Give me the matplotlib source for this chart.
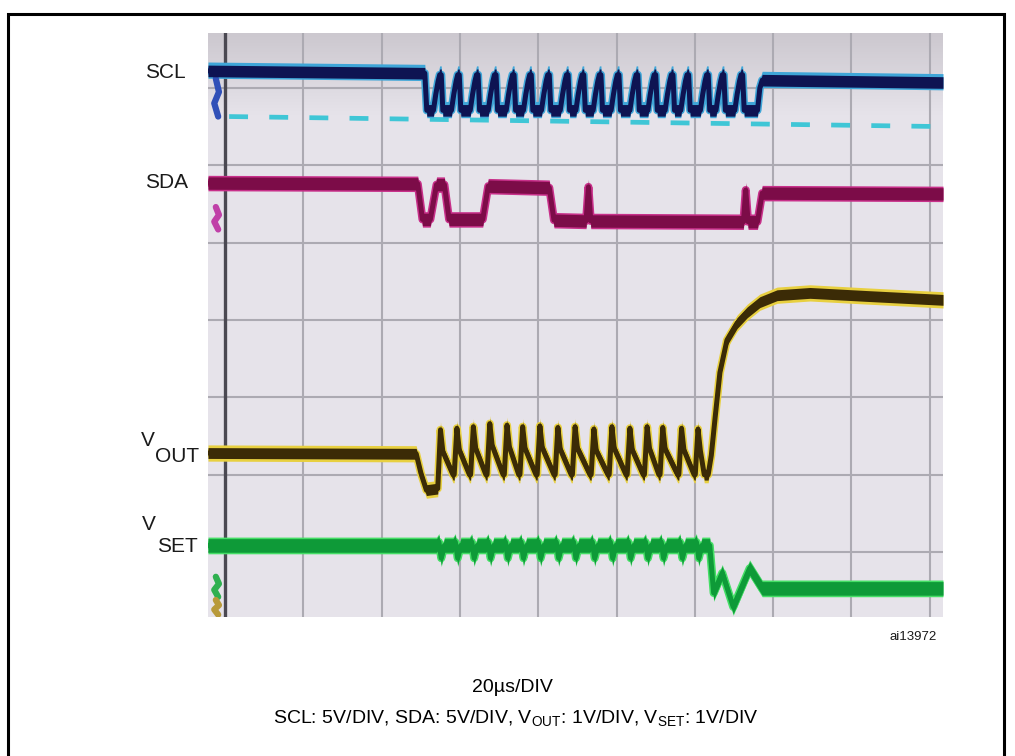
import numpy as np
import matplotlib
matplotlib.use('Agg')
import matplotlib.pyplot as plt
from matplotlib.patches import Rectangle
from matplotlib.colors import LinearSegmentedColormap

plt.rcParams['font.family'] = ['Liberation Sans', 'DejaVu Sans']
plt.rcParams['mathtext.fontset'] = 'custom'
plt.rcParams['mathtext.rm'] = 'Liberation Sans'
plt.rcParams['mathtext.it'] = 'Liberation Sans:italic'
plt.rcParams['mathtext.bf'] = 'Liberation Sans:bold'

# ---------------- data (screen divisions: x = 20us/div, y = div above lowest graticule line)
time_span = [-0.22, 9.17]
level_span = [-0.84, 6.71]
grid_x = [1, 2, 3, 4, 5, 6, 7, 8, 9]
grid_y = [0, 1, 2, 3, 4, 5, 6]

# SCL
scl_high_left = 6.22
scl_high_right = 6.07
scl_pulse_high = 6.17
scl_low = 5.71
scl_start = 2.55
scl_end = 6.83
scl_peaks = [2.75, 2.98, 3.22, 3.45, 3.68, 3.90, 4.13, 4.37, 4.57, 4.79,
             5.02, 5.26, 5.49, 5.71, 5.91, 6.16, 6.36, 6.60]
scl_ref_t = [0.05, 9.17]
scl_ref_v = [5.63, 5.50]

# SDA
sda_t = [-0.22, 2.46, 2.52, 2.62, 2.70, 2.80, 2.86, 3.29, 3.36, 4.14, 4.20,
         4.61, 4.64, 4.67, 6.62, 6.65, 6.68, 6.80, 6.86, 9.17]
sda_v = [4.77, 4.76, 4.30, 4.30, 4.75, 4.75, 4.30, 4.30, 4.73, 4.71, 4.29,
         4.28, 4.72, 4.28, 4.27, 4.68, 4.27, 4.27, 4.64, 4.63]

# VOUT
vout_pre_t = [-0.22, 2.44, 2.50, 2.57]
vout_pre_v = [1.28, 1.27, 1.02, 0.80]
vout_peak_t = [2.75, 2.96, 3.17, 3.38, 3.60, 3.80, 4.02, 4.25, 4.47, 4.71,
               4.94, 5.17, 5.39, 5.59, 5.83, 6.04]
vout_peak_v = [1.58, 1.60, 1.62, 1.66, 1.64, 1.62, 1.63, 1.61, 1.62, 1.59,
               1.62, 1.60, 1.62, 1.61, 1.60, 1.59]
vout_trough = 1.00
vout_rise_t = [6.17, 6.21, 6.26, 6.32, 6.41, 6.54, 6.67, 6.83, 7.05, 7.47, 8.20, 9.17]
vout_rise_v = [1.00, 1.25, 1.75, 2.32, 2.74, 2.96, 3.10, 3.23, 3.32, 3.35, 3.31, 3.26]

# VSET
vset_base = 0.085
vset_ripple_hi = 0.13
vset_ripple_lo = -0.08
vset_post_t = [6.19, 6.24, 6.35, 6.49, 6.70, 6.86, 9.17]
vset_post_v = [0.085, -0.53, -0.27, -0.71, -0.21, -0.47, -0.47]

# channel ground markers at left edge (level span)
marker_levels = {'SCL': (6.12, 5.63), 'SDA': (4.46, 4.17), 'VSET': (-0.32, -0.58), 'VOUT': (-0.62, -0.81)}

# ---------------- build traces
def build_scl():
    lo, hi = scl_low, scl_pulse_high
    t = [time_span[0], scl_start, scl_start + 0.025]
    v = [scl_high_left, scl_high_left - 0.03, lo]
    for p in scl_peaks:
        t += [p - 0.09, p - 0.06, p - 0.03, p - 0.01, p + 0.01, p + 0.03]
        v += [lo, lo + 0.45 * (hi - lo), lo + 0.82 * (hi - lo), hi, hi, lo]
    t += [scl_end - 0.03, scl_end, scl_end + 0.03, time_span[1]]
    v += [lo, lo + 0.8 * (scl_high_right - lo), scl_high_right + 0.03, scl_high_right]
    return np.array(t), np.array(v)

def build_vout():
    t = list(vout_pre_t)
    v = list(vout_pre_v)
    for i, (p, pv) in enumerate(zip(vout_peak_t, vout_peak_v)):
        t += [p - 0.035, p]
        v += [vout_trough if i else 0.82, pv]
        nxt = vout_peak_t[i + 1] if i + 1 < len(vout_peak_t) else vout_rise_t[0]
        t += [p + 0.03, nxt - 0.05]
        v += [pv - 0.28, vout_trough]
    t += vout_rise_t
    v += vout_rise_v
    return np.array(t), np.array(v)

def build_vset():
    t = [time_span[0], 2.45]
    v = [vset_base, vset_base]
    for p in vout_peak_t:
        t += [p - 0.05, p - 0.02, p + 0.01, p + 0.05]
        v += [vset_base, vset_ripple_hi, vset_ripple_lo, vset_base]
    t += vset_post_t
    v += vset_post_v
    return np.array(t), np.array(v)

# ---------------- figure
W, H = 1015, 756
fig = plt.figure(figsize=(W / 100, H / 100), dpi=100)
fig.patch.set_facecolor('white')

def fx(px):
    return px / W

def fy(py):
    return 1 - py / H

ax = fig.add_axes([fx(208), fy(617), fx(943) - fx(208), fy(33) - fy(617)])
ax.set_xlim(time_span)
ax.set_ylim(level_span)
ax.set_facecolor('#e6e3ea')
for s in ax.spines.values():
    s.set_visible(False)
ax.set_xticks([])
ax.set_yticks([])

grad = np.linspace(0, 1, 100).reshape(-1, 1)
cmap = LinearSegmentedColormap.from_list('scr', ['#ccc8cf', '#e6e3ea'])
ax.imshow(grad, extent=[0, 1, 0.86, 1.0], transform=ax.transAxes, cmap=cmap,
          aspect='auto', zorder=0, origin='upper')

for gx in grid_x:
    ax.axvline(gx, color='#acaab2', lw=1.5, zorder=1)
for gy in grid_y:
    ax.axhline(gy, color='#acaab2', lw=1.5, zorder=1)
ax.axvline(0, color='#4b4952', lw=2.4, zorder=1)

def band(t, v, core, halo, dc, dh_lo, dh_hi, z, edge_c=3.6, edge_h=5.8):
    ax.fill_between(t, v - dh_lo, v + dh_hi, color=halo, lw=0, zorder=z)
    ax.plot(t, v, color=halo, lw=edge_h, solid_joinstyle='round', zorder=z + 0.05)
    ax.fill_between(t, v - dc, v + dc, color=core, lw=0, zorder=z + 0.1)
    ax.plot(t, v, color=core, lw=edge_c, solid_joinstyle='round', zorder=z + 0.15)

# SCL reference dashed line
ax.plot(scl_ref_t, scl_ref_v, color='#3fc6d6', lw=3.4, dashes=(4, 4.5), zorder=2)

st, sv = build_scl()
band(st, sv, '#0e1452', '#3fa6d8', 0.075, 0.095, 0.115, 3)

band(np.array(sda_t), np.array(sda_v), '#7c0c48', '#c8308a', 0.08, 0.10, 0.10, 3)

vt, vv = build_vout()
band(vt, vv, '#3b2b06', '#e8d040', 0.07, 0.105, 0.105, 3)

gt, gv = build_vset()
band(gt, gv, '#0e9a38', '#45de66', 0.088, 0.108, 0.108, 3)

# ground markers
mcol = {'SCL': '#3050b8', 'SDA': '#c040a8', 'VSET': '#2fb050', 'VOUT': '#b89a3a'}
for k, (a, b) in marker_levels.items():
    ax.plot([-0.12, -0.08, -0.14, -0.09], [a, a - (a - b) * 0.35, a - (a - b) * 0.65, b],
            color=mcol[k], lw=4.5, solid_capstyle='round', zorder=3)

# channel labels
lab = dict(fontsize=15, color='#1a1a1a', va='center', ha='left')
fig.text(fx(145), fy(72), 'SCL', **lab)
fig.text(fx(145), fy(183), 'SDA', **lab)
fig.text(fx(141), fy(441), 'V', **lab)
fig.text(fx(155), fy(456), 'OUT', **lab)
fig.text(fx(142), fy(525), 'V', **lab)
fig.text(fx(157), fy(547), 'SET', **lab)

fig.text(fx(889), fy(637), 'ai13972', fontsize=9.5, color='#1a1a1a', va='center', ha='left')

fig.text(fx(512), fy(688), '20µs/DIV', fontsize=14, color='black', ha='center', va='center')
fig.text(fx(516), fy(718),
         r'SCL: 5V/DIV, SDA: 5V/DIV, V$_{\mathrm{OUT}}$: 1V/DIV, V$_{\mathrm{SET}}$: 1V/DIV',
         fontsize=14, color='black', ha='center', va='center')

# outer frame
fig.add_artist(Rectangle((fx(8), fy(762)), fx(1004) - fx(8), fy(14) - fy(762),
                         transform=fig.transFigure, fill=False, edgecolor='black', lw=2.2))

fig.savefig('out.png', dpi=100)
